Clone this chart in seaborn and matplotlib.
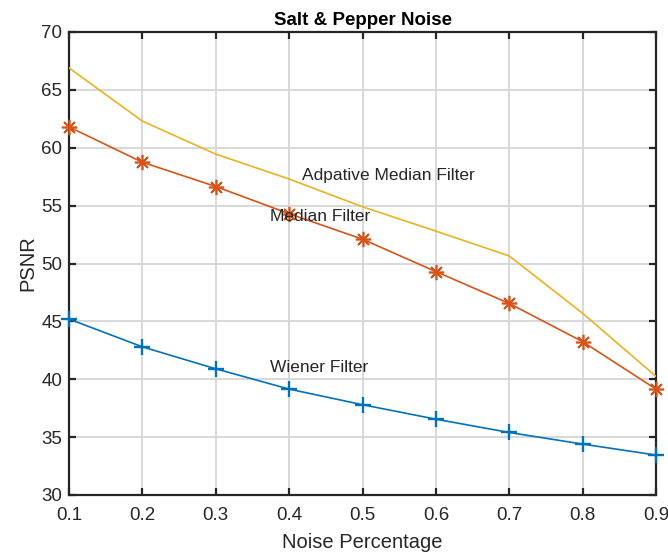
import matplotlib
matplotlib.use("Agg")
import matplotlib.pyplot as plt
import seaborn as sns
import pandas as pd

noise = [0.1, 0.2, 0.3, 0.4, 0.5, 0.6, 0.7, 0.8, 0.9]
adaptive = [66.9, 62.3, 59.45, 57.3, 54.9, 52.8, 50.65, 45.7, 40.25]
median = [61.8, 58.75, 56.65, 54.3, 52.1, 49.3, 46.55, 43.25, 39.15]
wiener = [45.2, 42.8, 40.9, 39.15, 37.8, 36.55, 35.4, 34.4, 33.45]

sns.set_style("ticks")
plt.rcParams['font.family'] = ['Liberation Sans', 'DejaVu Sans']

fig = plt.figure(figsize=(6.68, 5.56), dpi=100)
ax = fig.add_axes([69/668, 1-495/556, (656-69)/668, (495-32)/556])

df = pd.DataFrame({"x": noise, "adaptive": adaptive, "median": median, "wiener": wiener})

sns.lineplot(data=df, x="x", y="wiener", ax=ax, color="#0072BD", marker="+",
             markersize=12, markeredgewidth=1.7, markeredgecolor="#0072BD",
             linewidth=1.2, zorder=3, clip_on=False)
sns.lineplot(data=df, x="x", y="median", ax=ax, color="#D95319", marker=(8, 2, 0),
             markersize=11, markeredgewidth=1.2, markeredgecolor="#D95319",
             linewidth=1.2, zorder=3, clip_on=False)
sns.lineplot(data=df, x="x", y="adaptive", ax=ax, color="#EDB120",
             linewidth=1.2, zorder=3)

ax.set_xlim(0.1, 0.9)
ax.set_ylim(30, 70)
ax.set_xticks(noise)
ax.set_xticklabels([f"{v:.1f}" for v in noise])
ax.set_yticks(range(30, 71, 5))
ax.grid(True, color="#d6d6d6", linewidth=1.3)
ax.set_axisbelow(True)
for s in ax.spines.values():
    s.set_visible(True)
    s.set_color("#262626")
    s.set_linewidth(1.6)
ax.tick_params(direction="in", length=5, width=1.6, top=True, right=True,
               labelsize=13.5, colors="#262626", pad=5)
ax.tick_params(axis="x", pad=9)

ax.set_xlabel("Noise Percentage", fontsize=14.5, color="#262626", labelpad=6)
ax.set_ylabel("PSNR", fontsize=14.5, color="#262626", labelpad=3)
ax.set_title("Salt & Pepper Noise", fontsize=13.5, fontweight="bold", color="black", pad=5)

ax.text(0.418, 57.6, "Adpative Median Filter", fontsize=12.5, va="center", ha="left")
ax.text(0.374, 54.1, "Median Filter", fontsize=12.5, va="center", ha="left")
ax.text(0.374, 41.05, "Wiener Filter", fontsize=12.5, va="center", ha="left")

fig.savefig("out.png", dpi=100)
